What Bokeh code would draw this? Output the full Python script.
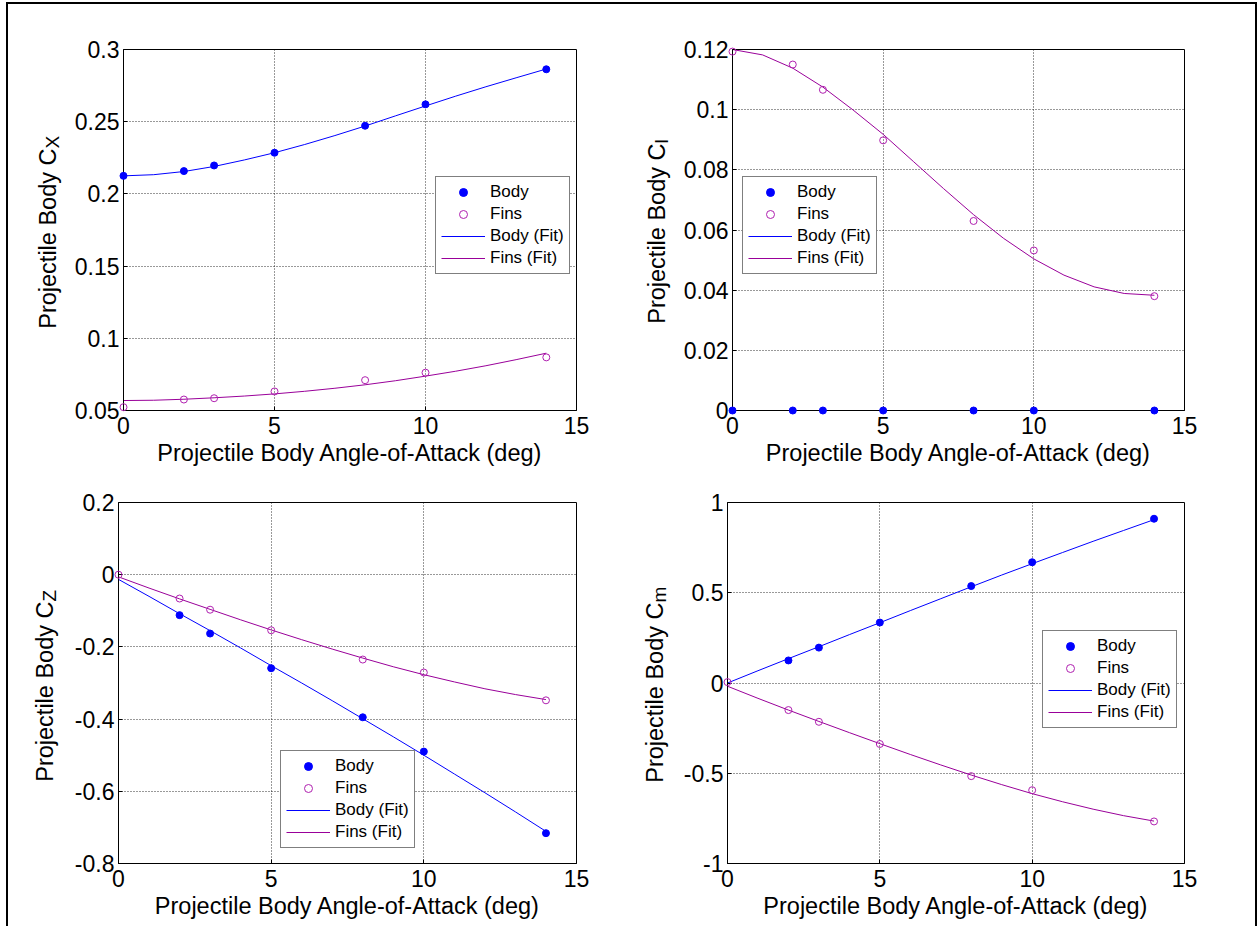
import math
from bokeh.plotting import figure
from bokeh.models import Range1d, FixedTicker, Legend, LegendItem
from bokeh.layouts import column, row
from bokeh.embed import file_html
from bokeh.resources import INLINE
from bokeh.core.properties import value

nan = float("nan")

# ---------------- data ----------------
alpha = [0, 2, 3, 5, 8, 10, 14]
alpha_fit = [0, 1, 2, 3, 4, 5, 6, 7, 8, 9, 10, 11, 12, 13, 14]

cx_body = [0.2125, 0.2158, 0.2197, 0.2285, 0.2472, 0.2620, 0.2863]
cx_fins = [0.0523, 0.0576, 0.0585, 0.0632, 0.0710, 0.0762, 0.0868]
cx_body_fit = [0.2125, 0.2133, 0.2155, 0.2190, 0.2235, 0.2285, 0.2342, 0.2404,
               0.2470, 0.2540, 0.2609, 0.2677, 0.2742, 0.2804, 0.2865]
cx_fins_fit = [0.0569, 0.0571, 0.0578, 0.0588, 0.0600, 0.0615, 0.0633, 0.0654,
               0.0678, 0.0706, 0.0738, 0.0772, 0.0810, 0.0852, 0.0897]

cl_body = [0, 0, 0, 0, 0, 0, 0]
cl_fins = [0.1193, 0.1150, 0.1066, 0.0898, 0.0630, 0.0532, 0.0380]
cl_body_fit = [0, 0, 0, 0, 0, 0, 0, 0, 0, 0, 0, 0, 0, 0, 0]
cl_fins_fit = [0.1200, 0.1182, 0.1138, 0.1075, 0.0999, 0.0918, 0.0828, 0.0738,
               0.0651, 0.0572, 0.0504, 0.0450, 0.0411, 0.0389, 0.0383]

cz_body = [nan, -0.112, -0.163, -0.259, -0.395, -0.490, -0.716]
cz_fins = [0.000, -0.066, -0.097, -0.154, -0.235, -0.271, -0.348]
cz_body_fit = [-0.013, -0.060, -0.108, -0.155, -0.203, -0.252, -0.300, -0.349,
               -0.399, -0.449, -0.500, -0.552, -0.604, -0.657, -0.711]
cz_fins_fit = [-0.006, -0.037, -0.067, -0.096, -0.125, -0.153, -0.180, -0.206,
               -0.231, -0.255, -0.277, -0.297, -0.316, -0.332, -0.346]

cm_body = [nan, 0.125, 0.196, 0.335, 0.537, 0.669, 0.910]
cm_fins = [0.005, -0.150, -0.215, -0.338, -0.516, -0.594, -0.767]
cm_body_fit = [0.000, 0.068, 0.135, 0.201, 0.268, 0.334, 0.401, 0.467,
               0.533, 0.598, 0.661, 0.723, 0.785, 0.845, 0.905]
cm_fins_fit = [-0.018, -0.085, -0.150, -0.213, -0.275, -0.336, -0.396, -0.454,
               -0.510, -0.563, -0.613, -0.658, -0.699, -0.735, -0.765]

x_ticks = [0, 5, 10, 15]
x_tick_labels = ["0", "5", "10", "15"]
cx_ticks = [0.05, 0.1, 0.15, 0.2, 0.25, 0.3]
cx_tick_labels = ["0.05", "0.1", "0.15", "0.2", "0.25", "0.3"]
cl_ticks = [0, 0.02, 0.04, 0.06, 0.08, 0.1, 0.12]
cl_tick_labels = ["0", "0.02", "0.04", "0.06", "0.08", "0.1", "0.12"]
cz_ticks = [-0.8, -0.6, -0.4, -0.2, 0, 0.2]
cz_tick_labels = ["-0.8", "-0.6", "-0.4", "-0.2", "0", "0.2"]
cm_ticks = [-1, -0.5, 0, 0.5, 1]
cm_tick_labels = ["-1", "-0.5", "0", "0.5", "1"]

series_names = ["Body", "Fins", "Body (Fit)", "Fins (Fit)"]
x_title = "Projectile Body Angle-of-Attack (deg)"
y_title = "Projectile Body C"

# ---------------- style ----------------
FONT = "Liberation Sans"
BLUE = "#0000FF"
FIN_MK = "#B020B0"
FIN_LN = "#990099"


def make_panel(w, h, bl, br, bt, bb, yr, yt, ytl, body, fins, body_fit, fins_fit,
               sub, title_dx, title_dy, leg_loc):
    p = figure(width=w, height=h, x_range=Range1d(0, 15), y_range=Range1d(*yr),
               output_backend="svg", toolbar_location=None,
               min_border_left=bl, min_border_right=br,
               min_border_top=bt, min_border_bottom=bb)
    p.background_fill_color = "white"
    p.border_fill_color = "white"
    p.outline_line_color = "black"
    p.outline_line_width = 1

    p.xaxis.ticker = FixedTicker(ticks=x_ticks)
    p.xaxis.major_label_overrides = dict(zip(x_ticks, x_tick_labels))
    p.yaxis.ticker = FixedTicker(ticks=yt)
    p.yaxis.major_label_overrides = dict(zip(yt, ytl))
    for ax in (p.xaxis[0], p.yaxis[0]):
        ax.axis_line_color = "black"
        ax.major_tick_line_color = "black"
        ax.major_tick_in = 4
        ax.major_tick_out = 0
        ax.minor_tick_line_color = None
        ax.major_label_text_font = FONT
        ax.major_label_text_font_size = "23px"
        ax.major_label_text_color = "black"
        ax.axis_label_text_font = FONT
        ax.axis_label_text_font_size = "23.5px"
        ax.axis_label_text_font_style = "normal"
        ax.axis_label_text_color = "black"
    p.xaxis.major_label_standoff = 6
    p.xaxis.axis_label = x_title
    p.xaxis.axis_label_standoff = 3
    p.yaxis.major_label_standoff = 4

    p.grid.grid_line_color = "black"
    p.grid.grid_line_dash = "1 2"
    p.grid.grid_line_width = 1
    p.grid.grid_line_alpha = 0.8

    p.line(alpha_fit, body_fit, line_color=BLUE, line_width=1)
    p.line(alpha_fit, fins_fit, line_color=FIN_LN, line_width=1)
    r_b = p.scatter(alpha, body, marker="circle", size=7, fill_color=BLUE,
                    line_color=BLUE, line_width=1, level="overlay")
    r_f = p.scatter(alpha, fins, marker="circle", size=7, fill_color=None,
                    line_color=FIN_MK, line_width=1, level="overlay")
    # stand-in renderers (no visible data) used only for the legend's line samples
    r_bf = p.segment(x0=[nan], y0=[nan], x1=[nan], y1=[nan], line_color=BLUE,
                     line_width=1, level="overlay")
    r_ff = p.segment(x0=[nan], y0=[nan], x1=[nan], y1=[nan], line_color=FIN_LN,
                     line_width=1, level="overlay")

    leg = Legend(items=[LegendItem(label=series_names[0], renderers=[r_b]),
                        LegendItem(label=series_names[1], renderers=[r_f]),
                        LegendItem(label=series_names[2], renderers=[r_bf]),
                        LegendItem(label=series_names[3], renderers=[r_ff])],
                 location=leg_loc)
    leg.margin = 0
    leg.padding = 5
    leg.spacing = 2
    leg.glyph_width = 44
    leg.glyph_height = 20
    leg.label_height = 20
    leg.label_standoff = 5
    leg.label_text_font = FONT
    leg.label_text_font_size = "17px"
    leg.label_text_color = "black"
    leg.border_line_color = "black"
    leg.border_line_width = 1
    leg.background_fill_color = "white"
    leg.background_fill_alpha = 1
    p.add_layout(leg)

    # rotated y-axis title with subscript, anchored at the frame's lower-left corner
    x0 = [0]
    y0 = [yr[0]]
    p.text(x=x0, y=y0, text=[y_title], x_offset=title_dx, y_offset=-title_dy,
           angle=math.pi / 2, text_align="right", text_baseline="alphabetic",
           text_font=value(FONT), text_font_size="23.5px", text_color="black",
           level="overlay")
    p.text(x=x0, y=y0, text=[sub], x_offset=title_dx + 5, y_offset=-title_dy,
           angle=math.pi / 2, text_align="left", text_baseline="alphabetic",
           text_font=value(FONT), text_font_size="19px", text_color="black",
           level="overlay")
    return p


p1 = make_panel(620, 471, 115, 52, 45, 65, (0.05, 0.3), cx_ticks, cx_tick_labels,
                cx_body, cx_fins, cx_body_fit, cx_fins_fit, "X", -76, 262, (312, 136))
p2 = make_panel(627, 471, 104, 71, 45, 65, (0, 0.12), cl_ticks, cl_tick_labels,
                cl_body, cl_fins, cl_body_fit, cl_fins_fit, "l", -76, 267, (10, 136))
p3 = make_panel(620, 451, 110, 52, 27, 63, (-0.8, 0.2), cz_ticks, cz_tick_labels,
                cz_body, cz_fins, cz_body_fit, cz_fins_fit, "Z", -74, 262, (162, 15))
p4 = make_panel(627, 451, 99, 71, 27, 63, (-1, 1), cm_ticks, cm_tick_labels,
                cm_body, cm_fins, cm_body_fit, cm_fins_fit, "m", -73, 261, (315, 135))

layout = column(row(p1, p2), row(p3, p4),
                styles={"border-top": "2px solid black",
                        "border-left": "2px solid black",
                        "border-right": "2px solid black",
                        "margin-left": "6px",
                        "margin-top": "2px"})

open("out.html", "w").write(file_html(layout, INLINE))
